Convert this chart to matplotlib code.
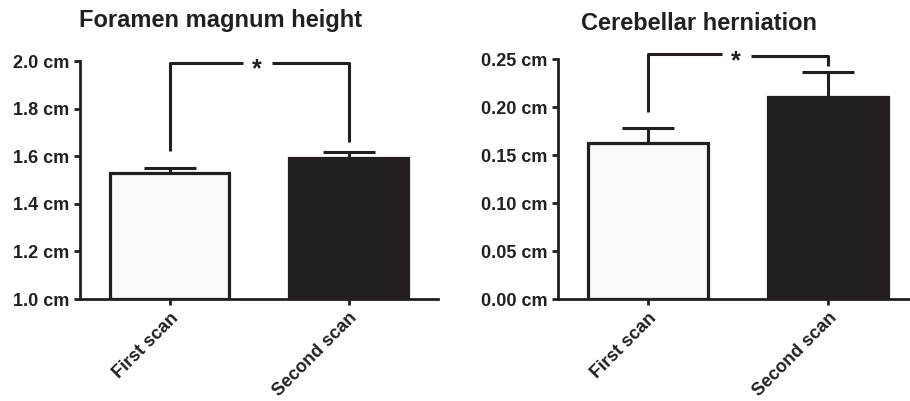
import numpy as np
import matplotlib.pyplot as plt

plt.rcParams['font.family'] = ['Liberation Sans', 'DejaVu Sans']
plt.rcParams['font.weight'] = 'bold'

ink = '#231f20'

# data
groups = ['First scan', 'Second scan']
fm_mean = [1.529, 1.592]          # Foramen magnum height
fm_err = [0.021, 0.026]
fm_ticks = [1.0, 1.2, 1.4, 1.6, 1.8, 2.0]
ch_mean = [0.1625, 0.210]         # Cerebellar herniation
ch_err = [0.0155, 0.026]
ch_ticks = [0.00, 0.05, 0.10, 0.15, 0.20, 0.25]

# significance brackets: (left leg bottom, left top, right top, right leg bottom)
fm_bracket = [1.62, 1.99, 1.99, 1.66]
ch_bracket = [0.195, 0.2555, 0.2535, 0.243]

fig = plt.figure(figsize=(9.1, 4.01), dpi=100)
ax1 = fig.add_axes([80/910, 1-299/401, 358/910, 238/401])
ax2 = fig.add_axes([558/910, 1-299/401, 351/910, 240/401])


def bar_panel(ax, mean, err, ticks, fmt, bracket, xmax):
    x = np.arange(len(groups))
    base = ticks[0]
    ax.bar(x, np.array(mean) - base, bottom=base, width=0.67,
           color=['#fafafa', ink], edgecolor=ink, linewidth=2.3, zorder=2)
    for xi, m, e in zip(x, mean, err):
        ax.errorbar(xi, m, yerr=[[0], [e]], fmt='none', ecolor=ink,
                    elinewidth=2.2, capsize=19, capthick=2.2, zorder=1)
    # bracket + star
    l0, l1, r1, r0 = bracket
    ax.plot([0, 0, 0.41], [l0, l1, l1], color=ink, lw=2.2,
            solid_capstyle='butt', clip_on=False)
    ax.plot([0.57, 1, 1], [r1, r1, r0], color=ink, lw=2.2,
            solid_capstyle='butt', clip_on=False)
    ax.annotate('*', xy=(0.485, (l1 + r1) / 2), xytext=(0, -4.5),
                textcoords='offset points', ha='center', va='center',
                fontsize=18, color=ink, fontweight='bold',
                annotation_clip=False)

    ax.set_xlim(-0.5, xmax)
    ax.set_ylim(ticks[0], ticks[-1])
    ax.set_yticks(ticks)
    ax.set_yticklabels([fmt.format(t) for t in ticks], fontsize=13,
                       color=ink, fontweight='bold')
    ax.set_xticks(x)
    ax.set_xticklabels(groups, rotation=45, ha='right',
                       rotation_mode='anchor', fontsize=13, color=ink,
                       fontweight='bold')
    for s in ['top', 'right']:
        ax.spines[s].set_visible(False)
    for s in ['left', 'bottom']:
        ax.spines[s].set_linewidth(2.0)
        ax.spines[s].set_color(ink)
    ax.tick_params(length=4.5, width=2.0, color=ink, pad=3)


bar_panel(ax1, fm_mean, fm_err, fm_ticks, '{:.1f} cm', fm_bracket, 1.5)
bar_panel(ax2, ch_mean, ch_err, ch_ticks, '{:.2f} cm', ch_bracket, 1.45)

fig.text(221/910, 1-21/401, 'Foramen magnum height', ha='center',
         va='center', fontsize=17, fontweight='bold', color=ink)
fig.text(699/910, 1-23/401, 'Cerebellar herniation', ha='center',
         va='center', fontsize=17, fontweight='bold', color=ink)

fig.savefig('out.png', dpi=100)
